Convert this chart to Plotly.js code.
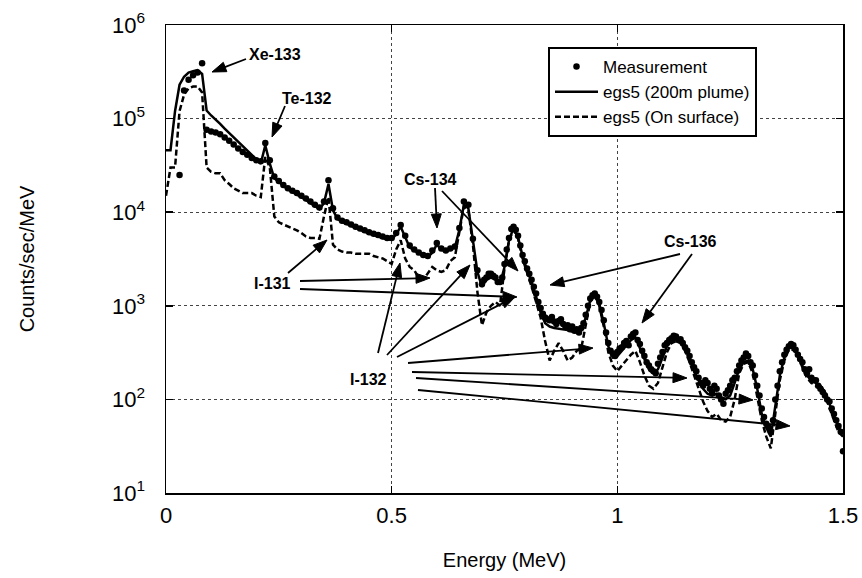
<!DOCTYPE html>
<html>
<head>
<meta charset="utf-8">
<script src="https://cdn.plot.ly/plotly-3.0.1.min.js"></script>
<style>html,body{margin:0;padding:0;background:#fff;}#chart{width:862px;height:578px;}</style>
</head>
<body>
<div id="chart"></div>
<script>
// Energy channels of the simulations (MeV)
const energy = [
0.00,0.01,0.02,0.03,0.04,0.05,0.06,0.07,0.08,0.09,
0.10,0.11,0.12,0.13,0.14,0.15,0.16,0.17,0.18,0.19,
0.20,0.21,0.22,0.23,0.24,0.25,0.26,0.27,0.28,0.29,
0.30,0.31,0.32,0.33,0.34,0.35,0.36,0.37,0.38,0.39,
0.40,0.41,0.42,0.43,0.44,0.45,0.46,0.47,0.48,0.49,
0.50,0.51,0.52,0.53,0.54,0.55,0.56,0.57,0.58,0.59,
0.60,0.61,0.62,0.63,0.64,0.65,0.66,0.67,0.68,0.69,
0.70,0.71,0.72,0.73,0.74,0.75,0.76,0.77,0.78,0.79,
0.80,0.81,0.82,0.83,0.84,0.85,0.86,0.87,0.88,0.89,
0.90,0.91,0.92,0.93,0.94,0.95,0.96,0.97,0.98,0.99,
1.00,1.01,1.02,1.03,1.04,1.05,1.06,1.07,1.08,1.09,
1.10,1.11,1.12,1.13,1.14,1.15,1.16,1.17,1.18,1.19,
1.20,1.21,1.22,1.23,1.24,1.25,1.26,1.27,1.28,1.29,
1.30,1.31,1.32,1.33,1.34,1.35,1.36,1.37,1.38,1.39,
1.40,1.41,1.42,1.43,1.44,1.45,1.46,1.47,1.48,1.49,
1.50];

// Energy channels of the measurement (MeV)
const measEnergy = [
0.00,0.01,0.02,0.03,0.04,0.05,0.06,0.07,0.08,0.09,
0.10,0.11,0.12,0.13,0.14,0.15,0.16,0.17,0.18,0.19,
0.20,0.21,0.22,0.23,0.24,0.25,0.26,0.27,0.28,0.29,
0.30,0.31,0.32,0.33,0.34,0.35,0.36,0.37,0.38,0.39,
0.40,0.41,0.42,0.43,0.44,0.45,0.46,0.47,0.48,0.49,
0.50,0.51,0.52,0.53,0.54,0.55,0.56,0.57,0.58,0.59,
0.60,0.61,0.62,0.63,0.64,0.65,0.66,0.67,0.68,0.69,
0.700,0.705,0.710,0.715,0.720,0.725,0.730,0.735,0.740,0.745,
0.750,0.755,0.760,0.765,0.770,0.775,0.780,0.785,0.790,0.795,
0.800,0.805,0.810,0.815,0.820,0.825,0.830,0.835,0.840,0.845,
0.850,0.855,0.860,0.865,0.870,0.875,0.880,0.885,0.890,0.895,
0.900,0.905,0.910,0.915,0.920,0.925,0.930,0.935,0.940,0.945,
0.950,0.955,0.960,0.965,0.970,0.975,0.980,0.985,0.990,0.995,
1.000,1.005,1.010,1.015,1.020,1.025,1.030,1.035,1.040,1.045,
1.050,1.055,1.060,1.065,1.070,1.075,1.080,1.085,1.090,1.095,
1.100,1.105,1.110,1.115,1.120,1.125,1.130,1.135,1.140,1.145,
1.150,1.155,1.160,1.165,1.170,1.175,1.180,1.185,1.190,1.195,
1.200,1.205,1.210,1.215,1.220,1.225,1.230,1.235,1.240,1.245,
1.250,1.255,1.260,1.265,1.270,1.275,1.280,1.285,1.290,1.295,
1.300,1.305,1.310,1.315,1.320,1.325,1.330,1.335,1.340,1.345,
1.350,1.355,1.360,1.365,1.370,1.375,1.380,1.385,1.390,1.395,
1.400,1.405,1.410,1.415,1.420,1.425,1.430,1.435,1.440,1.445,
1.450,1.455,1.460,1.465,1.470,1.475,1.480,1.485,1.490,1.495,
1.500];

// Measurement (counts/sec/MeV)
const measurement = [
null,null,null,2.5e4,2.0e5,2.6e5,2.9e5,3.1e5,3.9e5,7.6e4,
7.3e4,7.1e4,6.8e4,6.3e4,5.8e4,5.3e4,4.8e4,4.4e4,4.1e4,3.8e4,
3.6e4,3.5e4,5.5e4,3.6e4,2.4e4,2.15e4,1.95e4,1.8e4,1.7e4,1.6e4,
1.5e4,1.4e4,1.3e4,1.2e4,1.12e4,1.3e4,2.2e4,1.1e4,8.8e3,8.1e3,
7.8e3,7.4e3,7.0e3,6.7e3,6.4e3,6.1e3,5.9e3,5.7e3,5.5e3,5.3e3,
5.3e3,6.0e3,7.3e3,5.6e3,4.4e3,4.0e3,3.7e3,3.5e3,3.4e3,3.9e3,
4.7e3,4.1e3,3.9e3,4.1e3,4.3e3,6.8e3,1.3e4,1.2e4,5.2e3,2.4e3,
1.7e3,1.9e3,2.0e3,2.2e3,2.2e3,2.1e3,2.0e3,1.8e3,1.8e3,2.0e3,
2.8e3,4.0e3,5.3e3,6.6e3,7.0e3,6.5e3,5.6e3,4.4e3,3.5e3,3.0e3,
2.5e3,2.2e3,1.9e3,1.6e3,1.35e3,1.1e3,950,820,750,720,
700,760,680,640,690,720,640,600,620,560,
600,540,560,520,580,650,800,1.0e3,1.2e3,1.3e3,
1.35e3,1.25e3,1.1e3,900,700,520,400,330,310,290,
320,350,360,400,420,380,470,500,520,430,
390,330,290,250,230,210,200,190,240,280,
320,380,400,430,450,480,470,430,440,400,
360,330,290,250,220,200,170,150,140,160,
150,130,120,140,130,110,100,90,115,125,
140,160,170,200,230,260,280,310,290,250,
230,180,140,110,80,65,55,50,45,60,
100,140,200,250,300,340,370,390,380,340,
300,270,250,210,190,210,170,160,160,140,
130,120,110,100,95,80,70,60,52,45,
28];

// egs5 simulation, 200 m plume
const plume = [
4.6e4,4.6e4,1.2e5,2.3e5,2.8e5,3.1e5,3.2e5,3.3e5,3.0e5,1.22e5,
1.08e5,9.8e4,8.8e4,7.8e4,7.0e4,6.2e4,5.6e4,5.0e4,4.5e4,4.0e4,
3.6e4,3.3e4,5.2e4,3.3e4,2.3e4,2.1e4,1.9e4,1.75e4,1.65e4,1.55e4,
1.45e4,1.35e4,1.25e4,1.15e4,1.08e4,1.25e4,2.0e4,1.05e4,8.5e3,7.9e3,
7.5e3,7.2e3,6.8e3,6.5e3,6.2e3,5.9e3,5.7e3,5.5e3,5.3e3,5.1e3,
5.1e3,5.8e3,7.0e3,5.4e3,4.2e3,3.9e3,3.6e3,3.4e3,3.3e3,3.7e3,
4.5e3,4.0e3,3.8e3,4.0e3,4.2e3,6.5e3,1.2e4,1.1e4,5.0e3,2.3e3,
1.6e3,1.9e3,2.0e3,1.9e3,1.7e3,2.6e3,5.0e3,6.8e3,5.4e3,3.4e3,
2.4e3,1.8e3,1.25e3,850,650,600,580,570,560,550,
530,520,540,750,1.15e3,1.3e3,1.05e3,650,370,280,
290,330,380,430,460,360,270,210,190,210,
280,370,420,440,420,350,270,200,160,130,
115,110,115,105,100,110,150,210,250,260,
210,130,70,50,40,90,180,280,360,350,
310,230,180,160,150,140,120,90,65,50,
44];

// egs5 simulation, on surface
const surface = [
1.5e4,3.0e4,3.0e4,1.2e5,1.8e5,2.1e5,2.2e5,2.2e5,1.9e5,3.0e4,
2.7e4,2.6e4,2.6e4,2.2e4,2.0e4,1.8e4,1.7e4,1.6e4,1.6e4,1.6e4,
1.5e4,1.45e4,3.9e4,3.0e4,9.0e3,7.8e3,7.4e3,7.0e3,6.7e3,6.4e3,
6.0e3,5.5e3,5.3e3,5.3e3,5.2e3,9.0e3,1.45e4,4.5e3,4.0e3,3.8e3,
3.7e3,3.7e3,3.6e3,3.6e3,3.6e3,3.6e3,3.4e3,3.3e3,3.2e3,3.0e3,
2.8e3,4.0e3,5.0e3,3.2e3,2.6e3,2.4e3,2.0e3,1.9e3,2.2e3,2.6e3,
2.4e3,2.3e3,2.4e3,3.0e3,3.3e3,6.0e3,1.15e4,1.05e4,4.5e3,1.4e3,
620,850,1.0e3,1.1e3,1.0e3,2.5e3,5.0e3,6.5e3,5.2e3,3.2e3,
2.3e3,1.6e3,1.1e3,750,420,260,330,400,330,260,
280,330,350,600,1.1e3,1.3e3,1.0e3,600,320,230,
200,230,260,300,330,250,180,140,130,150,
220,320,400,420,400,330,250,180,130,95,
75,65,70,60,58,65,100,190,240,250,
190,110,60,40,30,70,160,260,340,340,
300,220,170,150,140,130,110,80,60,45,
40];

const seriesNames = ['Measurement', 'egs5 (200m plume)', 'egs5 (On surface)'];
const yTickVals = [10, 100, 1000, 10000, 100000, 1000000];
const yTickText = ['10<sup>1</sup>','10<sup>2</sup>','10<sup>3</sup>','10<sup>4</sup>','10<sup>5</sup>','10<sup>6</sup>'];
const xTickVals = [0, 0.5, 1, 1.5];
const xTickText = ['0', '0.5', '1', '1.5'];

// Plot-area geometry (pixels) for placing labels/arrows
const L = 166, R = 843, T = 25, B = 493;
const pxX = x => (x - L) / (R - L);
const pxY = y => (B - y) / (B - T);

const labels = [
  {text: 'Xe-133', x: 275, y: 54},
  {text: 'Te-132', x: 307, y: 98},
  {text: 'Cs-134', x: 430, y: 179},
  {text: 'Cs-136', x: 690, y: 241},
  {text: 'I-131', x: 272, y: 283},
  {text: 'I-132', x: 368, y: 379}
];
// [tailX, tailY, headX, headY]
const arrows = [
  [246, 59, 212, 72],
  [285, 106, 272, 137],
  [435, 188, 437, 228],
  [442, 191, 518, 271],
  [680, 254, 550, 285],
  [692, 254, 642, 323],
  [288, 273, 327, 240],
  [300, 281, 430, 278],
  [300, 289, 517, 297],
  [378, 353, 400, 263],
  [387, 355, 470, 265],
  [397, 357, 515, 297],
  [408, 363, 593, 348],
  [412, 372, 687, 378],
  [416, 378, 753, 400],
  [418, 390, 790, 426]
];

const FONT = 'Liberation Sans, Arial, sans-serif';

const annotations = labels.map(l => ({
  xref: 'paper', yref: 'paper', x: pxX(l.x), y: pxY(l.y),
  text: '<b>' + l.text + '</b>', showarrow: false,
  xanchor: 'center', yanchor: 'middle',
  font: {family: FONT, size: 16, color: '#000'}
}));

// Arrows drawn as a shaft line plus a filled triangular head
const shapes = [];
const HEAD_LEN = 14, HEAD_HALF = 5;
arrows.forEach(a => {
  const [tx, ty, hx, hy] = a;
  const dx = hx - tx, dy = hy - ty, len = Math.hypot(dx, dy);
  const ux = dx / len, uy = dy / len, nx = -uy, ny = ux;
  const bx = hx - HEAD_LEN * ux, by = hy - HEAD_LEN * uy;
  shapes.push({type: 'line', xref: 'paper', yref: 'paper',
    x0: pxX(tx), y0: pxY(ty), x1: pxX(bx + ux), y1: pxY(by + uy),
    line: {color: '#000', width: 1.8}});
  const p1 = [bx + HEAD_HALF * nx, by + HEAD_HALF * ny];
  const p2 = [bx - HEAD_HALF * nx, by - HEAD_HALF * ny];
  shapes.push({type: 'path', xref: 'paper', yref: 'paper',
    path: 'M' + pxX(hx) + ',' + pxY(hy) + ' L' + pxX(p1[0]) + ',' + pxY(p1[1]) +
          ' L' + pxX(p2[0]) + ',' + pxY(p2[1]) + ' Z',
    fillcolor: '#000', line: {color: '#000', width: 1}});
});

const traces = [
  {x: energy, y: plume, name: seriesNames[1], type: 'scatter', mode: 'lines',
   line: {color: '#000', width: 2.5, shape: 'linear'}, legendrank: 2},
  {x: energy, y: surface, name: seriesNames[2], type: 'scatter', mode: 'lines',
   line: {color: '#000', width: 2.5, shape: 'linear', dash: '6px,3px'}, legendrank: 3},
  {x: measEnergy, y: measurement, name: seriesNames[0], type: 'scatter', mode: 'markers',
   marker: {color: '#000', size: 6.5, symbol: 'circle'}, legendrank: 1}
];

const layout = {
  width: 862, height: 578,
  margin: {l: L, r: 862 - R, t: T, b: 578 - B},
  paper_bgcolor: '#fff', plot_bgcolor: '#fff',
  font: {family: FONT, color: '#000', size: 16},
  showlegend: true,
  legend: {
    x: pxX(548), y: pxY(47), xanchor: 'left', yanchor: 'top',
    bgcolor: '#fff', bordercolor: '#000', borderwidth: 2,
    font: {family: FONT, size: 17, color: '#000'},
    itemwidth: 43, tracegroupgap: 0
  },
  xaxis: {
    range: [0, 1.5], tickvals: xTickVals, ticktext: xTickText,
    tickfont: {family: FONT, size: 22, color: '#000'},
    ticks: 'inside', ticklen: 7, tickwidth: 1.5, tickcolor: '#000',
    showline: true, linecolor: '#000', linewidth: 1.5, mirror: 'ticks',
    showgrid: true, gridcolor: '#444', gridwidth: 1, griddash: 'dot',
    zeroline: false, ticklabelstandoff: 2,
    title: {text: 'Energy (MeV)', font: {family: FONT, size: 20, color: '#000'}, standoff: 26}
  },
  yaxis: {
    type: 'log', range: [1, 6], tickvals: yTickVals, ticktext: yTickText,
    tickfont: {family: FONT, size: 22, color: '#000'},
    ticks: 'inside', ticklen: 7, tickwidth: 1.5, tickcolor: '#000',
    showline: true, linecolor: '#000', linewidth: 1.5, mirror: 'ticks',
    showgrid: true, gridcolor: '#444', gridwidth: 1, griddash: 'dot',
    zeroline: false, ticklabelstandoff: 15,
    title: {text: 'Counts/sec/MeV', font: {family: FONT, size: 20, color: '#000'}, standoff: 72}
  },
  annotations: annotations,
  shapes: shapes
};

Plotly.newPlot('chart', traces, layout, {staticPlot: true, displayModeBar: false});
</script>
</body>
</html>
